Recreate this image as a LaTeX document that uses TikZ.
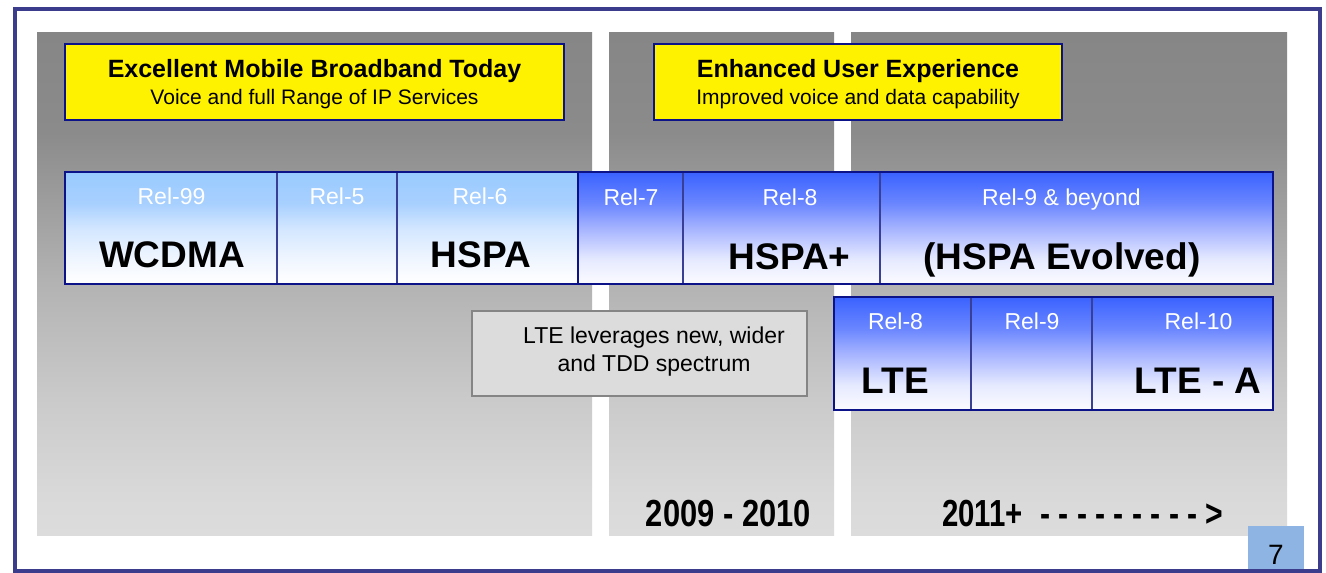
\documentclass[tikz,border=0pt]{standalone}
\usepackage{fontspec}
\setmainfont{Liberation Sans}
\usepackage{graphicx}

% palette
\definecolor{framecol}{HTML}{3C3C8C}
\definecolor{navy}{HTML}{0C1288}
\definecolor{divcol}{HTML}{3A3F96}
\definecolor{pT}{HTML}{868686}
\definecolor{p4}{HTML}{8B8B8B}
\definecolor{p3}{HTML}{B3B3B3}
\definecolor{p2}{HTML}{CBCBCB}
\definecolor{p1}{HTML}{D9D9D9}
\definecolor{pB}{HTML}{DCDCDC}
\definecolor{lT}{HTML}{99CAFF}
\definecolor{l3}{HTML}{A8D0FF}
\definecolor{l2}{HTML}{D2E6FF}
\definecolor{l1}{HTML}{F0F6FF}
\definecolor{bT}{HTML}{3A62FF}
\definecolor{b3}{HTML}{6A86FF}
\definecolor{b2}{HTML}{A5B3FF}
\definecolor{b1}{HTML}{E6EAFF}
\definecolor{bB}{HTML}{FBFBFF}
\definecolor{noteFill}{HTML}{DCDCDC}
\definecolor{noteLine}{HTML}{858585}
\definecolor{pagebox}{HTML}{8DB4E2}

% vertical shadings (the 25bp..75bp band is fitted to the shape)
\pgfdeclareverticalshading{paneshade}{100bp}{color(0bp)=(pB); color(25bp)=(pB);
  color(29bp)=(p1); color(38bp)=(p2); color(50bp)=(p3); color(65bp)=(p4);
  color(75bp)=(pT); color(100bp)=(pT)}
\pgfdeclareverticalshading{ltshade}{100bp}{color(0bp)=(white); color(25bp)=(white);
  color(36bp)=(l1); color(50bp)=(l2); color(61bp)=(l3);
  color(75bp)=(lT); color(100bp)=(lT)}
\pgfdeclareverticalshading{blshade}{100bp}{color(0bp)=(bB); color(25bp)=(bB);
  color(36bp)=(b1); color(50bp)=(b2); color(61bp)=(b3);
  color(75bp)=(bT); color(100bp)=(bT)}

\tikzset{
  pane/.style={shading=paneshade},
  cellbox/.style={draw=divcol, line width=1.6, inner sep=0, outer sep=0,
    minimum height=112},
  ltcell/.style={cellbox, shade, shading=ltshade},
  blcell/.style={cellbox, shade, shading=blshade},
  grp/.style={draw=navy, line width=2.6},
  headbox/.style={draw=navy, line width=2.8, fill=yellow, inner sep=0,
    minimum height=76},
  headt/.style={anchor=base, inner sep=0, font=\fontsize{25}{25}\selectfont\bfseries},
  subt/.style={anchor=base, inner sep=0, font=\fontsize{21}{21}\selectfont},
  relt/.style={anchor=base, inner sep=0, text=white, font=\fontsize{23}{23}\selectfont},
  bigt/.style={anchor=base, inner sep=0, font=\fontsize{37}{37}\selectfont\bfseries},
  notebox/.style={draw=noteLine, line width=2, fill=noteFill, inner sep=0,
    minimum width=335, minimum height=85},
  notet/.style={anchor=base, inner sep=0, font=\fontsize{23}{23}\selectfont},
  yeart/.style={inner sep=0, font=\fontsize{37.7}{37.7}\selectfont\bfseries},
}

\begin{document}
\begin{tikzpicture}[x=1pt, y=-1pt]
\useasboundingbox (0,0) rectangle (1326,573);
\fill[white] (0,0) rectangle (1326,573);

% three period panels
\shade[pane] (37,32) rectangle (592,535);
\shade[pane] (609,32) rectangle (834,535);
\shade[pane] (851,32) rectangle (1287,535);

% headline boxes
\node[headbox, minimum width=499] (hb1) at (314.5,82) {};
\node[headt] (hb1t) at (314.5,77) {Excellent Mobile Broadband Today};
\node[subt] (hb1s) at (314.5,104) {Voice and full Range of IP Services};

\node[headbox, minimum width=408] (hb2) at (858,82) {};
\node[headt] (hb2t) at (858,77) {Enhanced User Experience};
\node[subt] (hb2s) at (858,104) {Improved voice and data capability};

% WCDMA / HSPA releases
\node[ltcell, minimum width=212] (r99) at (171,228) {};
\node[ltcell, minimum width=120] (r5)  at (337,228) {};
\node[ltcell, minimum width=181] (r6)  at (487.5,228) {};
\node[blcell, minimum width=105] (r7)  at (630.5,228) {};
\node[blcell, minimum width=197] (r8)  at (781.5,228) {};
\node[blcell, minimum width=393] (r9)  at (1076.5,228) {};
\draw[grp] (r99.north west) rectangle (r6.south east);
\draw[grp] (r7.north west) rectangle (r9.south east);

\node[relt] (r99a) at (171.5,204) {Rel-99};
\node[bigt] (r99b) at (172,267) {WCDMA};
\node[relt] (r5a)  at (337,204) {Rel-5};
\node[relt] (r6a)  at (480,204) {Rel-6};
\node[bigt] (r6b)  at (481,267) {HSPA};
\node[relt] (r7a)  at (631,205) {Rel-7};
\node[relt] (r8a)  at (790,205) {Rel-8};
\node[bigt] (r8b)  at (789.5,269) {HSPA+};
\node[relt] (r9a)  at (1061.5,205) {Rel-9 \& beyond};
\node[bigt] (r9b)  at (1062,269) {(HSPA Evolved)};

% LTE releases
\node[blcell, minimum width=137, minimum height=113] (l8)  at (902.5,353.5) {};
\node[blcell, minimum width=121, minimum height=113] (l9)  at (1031.5,353.5) {};
\node[blcell, minimum width=181, minimum height=113] (l10) at (1182.5,353.5) {};
\draw[grp] (l8.north west) rectangle (l10.south east);

\node[relt] (l8a)  at (895.5,329) {Rel-8};
\node[bigt] (l8b)  at (895.5,393) {LTE};
\node[relt] (l9a)  at (1032,329) {Rel-9};
\node[relt] (l10a) at (1198.5,329) {Rel-10};
\node[bigt] (l10b) at (1198,393) {LTE - A};

% spectrum note
\node[notebox] (note) at (639.5,353.5) {};
\node[notet] (note1) at (654,343) {LTE leverages new, wider};
\node[notet] (note2) at (654,371.5) {and TDD spectrum};

% timeline labels
\node[yeart, anchor=base] (yr1) at (728.5,526) {\scalebox{0.82}[1]{2009 - 2010}};
\node[yeart, anchor=base west] (yr2) at (942,526) {\scalebox{0.78}[1]{2011+}};
\node[yeart, anchor=base west] (yr3) at (1040,526)
  {\scalebox{0.8}[1]{- - - - - - - - - >}};

% page number
\fill[pagebox] (1248,526) rectangle (1304,570);
\node[anchor=base, inner sep=0, font=\fontsize{28}{28}\selectfont] (pg) at (1276,564.5) {7};

% slide frame
\draw[framecol, line width=4] (15,8.5) rectangle (1319.5,570.5);
\end{tikzpicture}
\end{document}
